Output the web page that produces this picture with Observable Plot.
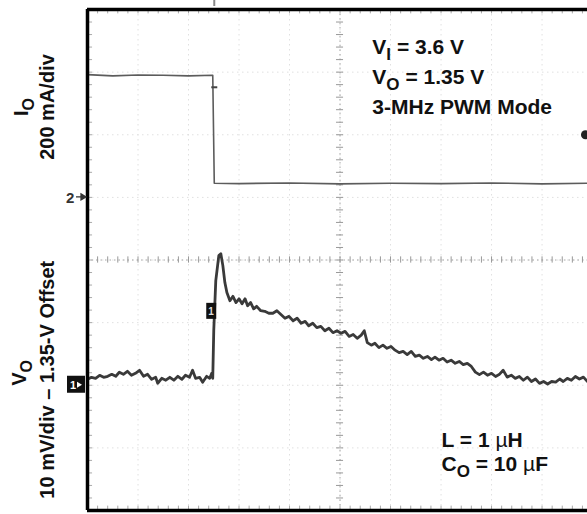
<!DOCTYPE html>
<html><head><meta charset="utf-8">
<script src="https://cdn.jsdelivr.net/npm/d3@7"></script>
<script src="https://cdn.jsdelivr.net/npm/@observablehq/plot@0.6"></script>
<style>
html,body{margin:0;padding:0;background:#fff;overflow:hidden;}
#chart{width:587px;height:514px;overflow:hidden;}
</style></head><body><div id="chart"></div>
<script>
// ---- Data (time in horizontal divisions from screen centre) ----
// Output voltage trace, AC-coupled around 1.35 V offset (mV)
const voTime = [
 -5.00,-4.92,-4.84,-4.76,-4.68,-4.60,-4.52,-4.44,-4.37,-4.29,
 -4.21,-4.13,-4.05,-3.97,-3.89,-3.81,-3.73,-3.65,-3.61,-3.53,
 -3.45,-3.37,-3.29,-3.21,-3.13,-3.06,-2.98,-2.92,-2.86,-2.78,
 -2.72,-2.64,-2.58,-2.54,-2.52,
 -2.50,-2.46,-2.40,-2.36,-2.32,-2.28,-2.24,-2.18,-2.12,-2.06,
 -2.00,-1.94,-1.88,-1.83,-1.77,-1.71,-1.65,-1.57,-1.49,-1.41,
 -1.33,-1.25,-1.17,-1.09,-1.01,-0.93,-0.85,-0.77,-0.69,-0.62,
 -0.54,-0.46,-0.38,-0.30,-0.22,-0.14,-0.06,0.02,0.10,0.18,
 0.26,0.34,0.42,0.48,0.54,0.62,0.69,0.77,0.85,0.93,
 1.01,1.09,1.17,1.25,1.33,1.41,1.49,1.57,1.65,1.73,
 1.81,1.88,1.96,2.04,2.12,2.20,2.28,2.36,2.44,2.52,
 2.60,2.68,2.76,2.84,2.92,3.00,3.08,3.15,3.23,3.31,
 3.39,3.47,3.55,3.63,3.71,3.79,3.87,3.95,4.03,4.11,
 4.19,4.27,4.35,4.42,4.50,4.58,4.66,4.74,4.82,4.90
];
const voMillivolts = [
 0.95,1.27,1.11,1.59,1.27,1.43,1.75,1.43,2.07,1.75,
 2.23,1.59,1.91,2.39,1.43,1.75,0.95,1.27,0.32,1.11,
 0.80,1.27,0.80,1.43,0.95,1.59,1.27,2.39,1.11,1.27,
 0.48,1.43,1.11,1.91,1.11,
 8.75,16.7,20.7,21.0,19.1,16.4,14.8,13.5,14.2,13.2,
 13.8,13.0,13.8,12.7,13.2,12.2,12.6,11.9,11.8,11.5,
 11.5,11.9,11.3,10.7,11.0,10.3,10.7,9.9,10.2,9.5,
 9.9,9.2,9.4,8.7,9.1,8.4,8.7,8.3,8.6,7.8,
 8.1,7.5,8.0,8.7,6.8,6.4,6.7,6.0,6.4,5.9,
 6.2,5.6,5.2,5.4,4.9,5.4,4.6,4.8,4.3,4.6,
 4.1,4.5,4.0,4.3,3.7,4.0,3.5,3.8,3.3,3.5,
 3.0,2.1,1.7,2.1,1.6,1.9,1.4,1.7,2.4,1.3,
 1.6,1.1,1.4,0.8,1.3,0.6,1.0,0.3,0.6,0.2,
 0.6,0.5,1.0,0.6,1.1,0.8,1.4,1.0,1.3,0.6
];
// Output current trace (mA)
const ioTime = [-5.00,-4.50,-4.00,-3.50,-3.00,-2.52,-2.49,-2.00,-1.00,0.00,1.00,2.00,3.00,4.00,4.90];
const ioMilliamps = [392,388,391,390,388,390,45,44,46,43,45,44,46,43,45];

// Channel settings
const ch1Ground = 2;   // divisions from bottom
const ch2Ground = 5;
const voPerDiv = 10;   // mV/div
const ioPerDiv = 200;  // mA/div

// Scope markers (data units)
const triggerTime = -2.52;
const ch1MarkerTime = -2.54, ch1MarkerMv = 11.8;
const ch2TriggerLevelMa = 200;
const ch2TriggerTime = 4.86;

// Texts
const ioLabel = [[["I",""],["O","sub"]], [["200 mA/div",""]]];
const voLabel = [[["V",""],["O","sub"]], [["10 mV/div \u2013 1.35-V Offset",""]]];
const notesTop = [
  [["V",""],["I","sub"],[" = 3.6 V",""]],
  [["V",""],["O","sub"],[" = 1.35 V",""]],
  [["3-MHz PWM Mode",""]]
];
const notesBottom = [
  [["L = 1 ",""],["\u00b5","mu"],["H",""]],
  [["C",""],["O","sub"],[" = 10 ",""],["\u00b5","mu"],["F",""]]
];

const vo = voTime.map((t,i)=>({t, d: ch1Ground + voMillivolts[i]/voPerDiv}));
const io = ioTime.map((t,i)=>({t, d: ch2Ground + ioMilliamps[i]/ioPerDiv}));

const majorX = d3.range(-5, 5, 1);
const majorY = d3.range(0, 9, 1);
const minorX = d3.range(-5, 4.95, 0.2);
const minorY = d3.range(0, 8.01, 0.2);
const grid = "#e0e0e0";

const plot = Plot.plot({
  width: 587, height: 514,
  marginLeft: 87, marginRight: 0, marginTop: 9, marginBottom: 4,
  x: {domain: [-5, 4.9], axis: null},
  y: {domain: [0, 8], axis: null},
  style: {background: "#fff", fontFamily: "Liberation Sans, Arial, Helvetica, sans-serif", overflow: "hidden"},
  marks: [
    Plot.ruleX(majorX, {stroke: grid, strokeDasharray: "1.5,3.5"}),
    Plot.ruleY(majorY, {stroke: grid, strokeDasharray: "1.5,3.5"}),
    Plot.ruleX([0], {stroke: "#a8a8a8", strokeDasharray: "1.5,3"}),
    Plot.ruleY([4], {stroke: "#a8a8a8", strokeDasharray: "1.5,3"}),
    Plot.ruleY(minorY, {x1: -0.07, x2: 0.07, stroke: "#999"}),
    Plot.ruleX(minorX, {y1: 3.95, y2: 4.05, stroke: "#999"}),
    Plot.ruleY(minorY, {x1: -5, x2: -4.9, stroke: "#aaa"}),
    Plot.ruleX(minorX, {y1: 7.93, y2: 8, stroke: "#aaa"}),
    Plot.ruleX(minorX, {y1: 0, y2: 0.07, stroke: "#aaa"}),
    Plot.line(io, {x: "t", y: "d", stroke: "#5c5c5c", strokeWidth: 1.6}),
    Plot.line(vo, {x: "t", y: "d", stroke: "#3a3a3a", strokeWidth: 2.8, strokeLinejoin: "round"}),
    Plot.ruleX([-5], {stroke: "#000", strokeWidth: 3.5}),
    Plot.ruleY([0, 8], {stroke: "#000", strokeWidth: 3.5}),
    Plot.dot([{t: ch2TriggerTime, d: ch2Ground + ch2TriggerLevelMa/ioPerDiv}], {x: "t", y: "d", r: 4.5, fill: "#222"})
  ]
});
document.getElementById("chart").appendChild(plot);

const xs = plot.scale("x"), ys = plot.scale("y");
const X = v => xs.apply(v), Y = v => ys.apply(v);
const svg = d3.select(plot);
const FONT = "Liberation Sans, Arial, Helvetica, sans-serif";

function rich(parent, parts, size, anchor) {
  const t = parent.append("text").attr("font-family", FONT).attr("font-weight", 700)
    .attr("font-size", size).attr("fill", "#111").attr("text-anchor", anchor);
  let shift = 0;
  for (const [s, kind] of parts) {
    const ts = t.append("tspan").text(s);
    const target = kind === "sub" ? 6 : 0;
    if (target !== shift) { ts.attr("dy", target - shift); shift = target; }
    if (kind === "sub") ts.attr("font-size", size - 4);
    if (kind === "mu") ts.attr("font-weight", 400);
  }
  return t;
}

// rotated axis labels
const lab = svg.append("g");
rich(lab, ioLabel[0], 20, "middle").attr("transform", `translate(28,${Y(6.435)}) rotate(-90)`);
rich(lab, ioLabel[1], 20, "middle").attr("transform", `translate(54,${Y(6.435)}) rotate(-90)`);
rich(lab, voLabel[0], 20, "middle").attr("transform", `translate(26,${Y(2.19)}) rotate(-90)`);
rich(lab, voLabel[1], 20, "middle").attr("transform", `translate(54,${Y(2.08)}) rotate(-90)`);

// annotations
const ann = svg.append("g");
const topY = [7.28, 6.81, 6.33];
notesTop.forEach((p, i) => rich(ann, p, 21, "start").attr("x", X(0.65)).attr("y", Y(topY[i])));
const botY = [1.0, 0.62];
notesBottom.forEach((p, i) => rich(ann, p, 21, "start").attr("x", X(2.02)).attr("y", Y(botY[i])));

// channel markers
const mk = svg.append("g").attr("font-family", FONT).attr("font-weight", 700).attr("text-anchor", "start");
// ch2 ground marker "2 ->"
const y2 = Y(ch2Ground), xl = X(-5);
mk.append("text").attr("x", xl - 21).attr("y", y2 + 6).attr("font-size", 15).attr("fill", "#333").text("2");
mk.append("path").attr("d", `M${xl-11},${y2}H${xl-2}M${xl-6},${y2-3}L${xl-1},${y2}L${xl-6},${y2+3}Z`).attr("stroke", "#333").attr("stroke-width", 1.3).attr("fill", "#333");
// ch1 ground marker box
const y1 = Y(ch1Ground);
mk.append("rect").attr("x", xl - 20).attr("y", y1 - 9).attr("width", 18).attr("height", 17).attr("fill", "#111");
mk.append("text").attr("x", xl - 17).attr("y", y1 + 4).attr("font-size", 11).attr("fill", "#fff").text("1");
mk.append("path").attr("d", `M${xl-10},${y1-3}L${xl-5},${y1}L${xl-10},${y1+3}Z`).attr("fill", "#fff");
// ch1 marker on trace
const mx = X(ch1MarkerTime), my = Y(ch1Ground + ch1MarkerMv/voPerDiv);
mk.append("rect").attr("x", mx - 5).attr("y", my - 8).attr("width", 10).attr("height", 16).attr("fill", "#111");
mk.append("text").attr("x", mx - 3).attr("y", my + 4).attr("font-size", 10).attr("fill", "#ddd").text("1");
// trigger position marker above screen
const tx = X(triggerTime + 0.04);
mk.append("line").attr("x1", tx).attr("x2", tx).attr("y1", Y(8) - 9).attr("y2", Y(8) - 3).attr("stroke", "#888").attr("stroke-width", 2);
// small mark on falling edge of I_O
mk.append("line").attr("x1", tx - 3).attr("x2", tx + 3).attr("y1", Y(ch2Ground + 1.75)).attr("y2", Y(ch2Ground + 1.75)).attr("stroke", "#444").attr("stroke-width", 2);
</script></body></html>
